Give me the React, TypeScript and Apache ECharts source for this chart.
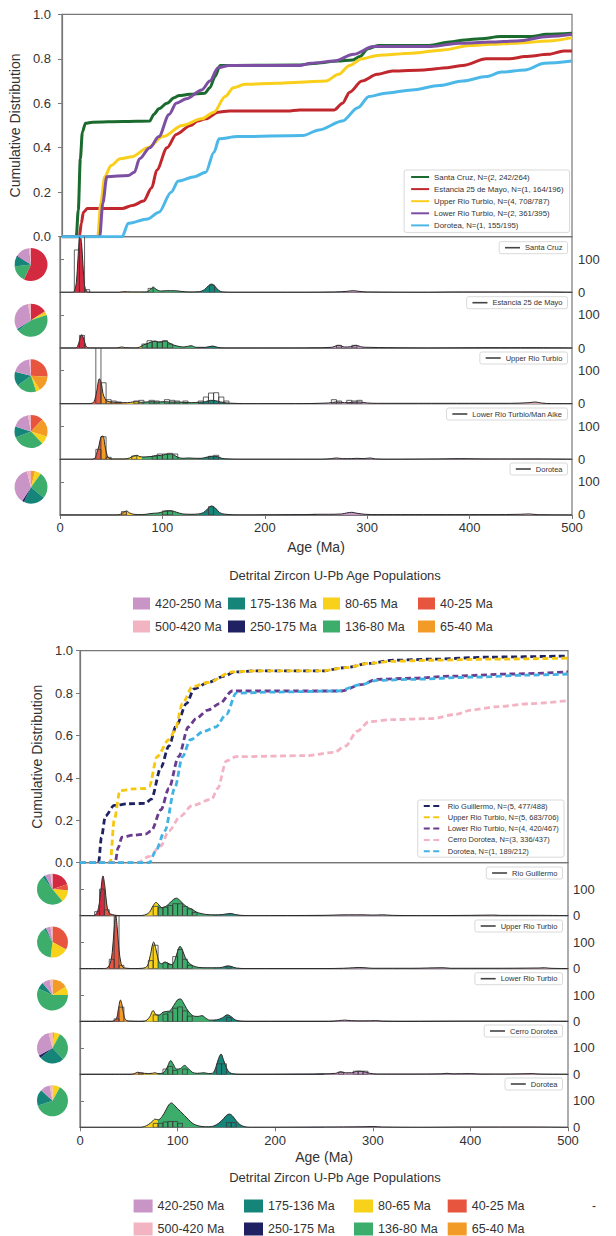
import React, { useEffect, useRef } from 'react';
import * as echarts from 'echarts';

// ---------- age populations ----------
const ageBandEdges = [0, 25, 40, 65, 80, 136, 175, 250, 420, 500];
const ageBandNames = ['<25 Ma', '40-25 Ma', '65-40 Ma', '80-65 Ma', '136-80 Ma', '175-136 Ma', '250-175 Ma', '420-250 Ma', '500-420 Ma'];
const ageBandColors = ['#d42a3f', '#e8553f', '#f29b27', '#f7d11a', '#3dad6c', '#168579', '#1f2163', '#c895c6', '#f2b4c0'];
const popLegendColumns = [
  ['420-250 Ma', '500-420 Ma'],
  ['175-136 Ma', '250-175 Ma'],
  ['80-65 Ma', '136-80 Ma'],
  ['40-25 Ma', '65-40 Ma'],
];
const popTitle = 'Detrital Zircon U-Pb Age Populations';

// ---------- top figure: cumulative distributions ----------
const cdfTopNames = [
  'Santa Cruz, N=(2, 242/264)',
  'Estancia 25 de Mayo, N=(1, 164/196)',
  'Upper Rio Turbio, N=(4, 708/787)',
  'Lower Rio Turbio, N=(2, 361/395)',
  'Dorotea, N=(1, 155/195)',
];
const cdfTopColors = ['#1b6b2e', '#c0282e', '#f9cf1c', '#7c4fa3', '#4cb8e8'];
const cdfSantaCruz = [[0,0],[14,0],[16,0.12],[18,0.35],[20,0.47],[23,0.51],[30,0.515],[60,0.518],[86,0.52],[90,0.55],[95,0.575],[103,0.6],[110,0.625],[115,0.635],[125,0.64],[140,0.645],[145,0.67],[150,0.72],[155,0.77],[170,0.77],[230,0.772],[250,0.78],[270,0.79],[285,0.795],[292,0.81],[300,0.845],[310,0.86],[360,0.86],[380,0.875],[395,0.885],[410,0.89],[430,0.9],[460,0.9],[475,0.91],[500,0.915]];
const cdfEstancia = [[0,0],[17,0],[19,0.06],[21,0.11],[25,0.127],[40,0.127],[59,0.127],[69,0.14],[80,0.16],[88,0.22],[93,0.3],[103,0.4],[112,0.46],[126,0.5],[133,0.52],[141,0.53],[153,0.56],[164,0.565],[221,0.565],[233,0.57],[267,0.57],[275,0.6],[282,0.65],[294,0.7],[309,0.73],[324,0.745],[355,0.75],[378,0.76],[393,0.77],[416,0.8],[439,0.8],[454,0.81],[477,0.82],[492,0.835],[500,0.835]];
const cdfUpperRioTurbioTop = [[0,0],[35,0],[38,0.15],[42,0.27],[48,0.32],[57,0.35],[69,0.36],[84,0.4],[99,0.45],[118,0.5],[137,0.53],[149,0.56],[160,0.63],[168,0.67],[179,0.685],[210,0.69],[233,0.695],[259,0.7],[271,0.73],[282,0.77],[294,0.8],[309,0.815],[343,0.825],[374,0.84],[400,0.86],[420,0.865],[446,0.87],[477,0.88],[500,0.895]];
const cdfLowerRioTurbioTop = [[0,0],[37,0],[40,0.15],[44,0.27],[65,0.275],[71,0.29],[76,0.35],[86,0.4],[95,0.45],[105,0.55],[112,0.6],[122,0.62],[137,0.66],[145,0.7],[153,0.76],[164,0.77],[233,0.77],[244,0.78],[267,0.79],[286,0.82],[305,0.855],[362,0.855],[389,0.87],[420,0.875],[446,0.88],[477,0.9],[500,0.91]];
const cdfDoroteaTop = [[0,0],[59,0],[65,0.06],[84,0.08],[95,0.11],[107,0.2],[114,0.25],[130,0.27],[141,0.29],[149,0.38],[154,0.44],[172,0.45],[236,0.455],[252,0.48],[275,0.52],[290,0.58],[301,0.63],[317,0.645],[343,0.66],[370,0.68],[393,0.7],[416,0.72],[431,0.74],[454,0.75],[473,0.78],[500,0.79]];

// ---------- top figure: KDE + histogram panels ----------
const kdeTopSantaCruz = [[0,0],[12,0],[14,3],[16,30],[17.5,100],[19.5,175],[21,150],[22.5,80],[24,20],[26,3],[28,0],[58,0],[62,2],[70,1],[84,1],[88,8],[91,16],[94,9],[98,4],[104,5],[112,5],[118,3],[126,1],[136,2],[141,8],[145,20],[148,25],[151,19],[155,6],[159,1],[170,0],[240,0],[268,1],[280,3],[286,5],[292,3],[300,1],[360,0],[385,1],[420,1],[460,1],[500,0]];
const histTopSantaCruz = [[14,19,128],[19,24,175],[24,29,8],[86,91,12],[146,151,22]];
const kdeTopEstancia = [[0,0],[15,0],[17,4],[19,22],[21,40],[23,30],[25,8],[27,1],[30,0],[55,0],[60,3],[64,1],[74,0],[78,3],[82,10],[85,13],[89,18],[93,21],[96,18],[99,19],[103,21],[107,15],[111,9],[116,5],[121,3],[128,7],[133,2],[142,2],[149,6],[154,2],[160,0],[230,0],[265,2],[272,8],[278,3],[284,4],[289,8],[295,3],[302,2],[320,1],[360,0],[420,1],[460,1],[500,0]];
const histTopEstancia = [[19,24,38],[80,85,12],[85,90,22],[90,95,20],[95,100,18],[100,105,22],[105,110,12],[270,275,8],[285,290,8]];
const kdeTopUpperRioTurbio = [[0,0],[28,0],[32,2],[34,12],[36,40],[38.5,75],[40.5,60],[42,30],[44,15],[46,8],[50,5],[55,4],[60,3],[66,3],[71,5],[75,6],[79,4],[84,5],[90,6],[96,5],[102,6],[108,5],[114,5],[120,4],[128,3],[136,4],[142,6],[147,10],[152,9],[157,5],[163,2],[170,1],[180,0],[230,0],[262,2],[270,5],[278,3],[286,4],[292,5],[300,2],[310,1],[350,1],[400,1],[440,1],[458,3],[464,5],[470,2],[480,0],[500,0]];
const histTopUpperRioTurbio = [[35,40,200],[40,45,63],[45,50,12],[50,55,8],[55,60,5],[72,77,8],[77,82,10],[87,92,10],[92,97,8],[102,107,12],[107,112,10],[112,117,8],[120,125,8],[135,140,8],[140,145,20],[145,150,32],[150,155,33],[155,160,20],[160,165,8],[265,270,12],[270,275,8],[280,285,10],[285,290,8],[290,295,10]];
const kdeTopLowerRioTurbio = [[0,0],[30,0],[34,3],[36,20],[38,40],[40,68],[42,70],[44,40],[46,12],[48,3],[52,1],[62,1],[68,4],[72,10],[75,12],[78,8],[82,7],[87,8],[91,9],[95,12],[99,11],[103,15],[107,16],[111,14],[115,6],[120,3],[126,4],[132,3],[138,3],[144,7],[149,9],[154,8],[158,3],[164,1],[175,0],[255,0],[265,2],[270,4],[276,2],[285,2],[290,3],[296,2],[303,4],[308,1],[320,0],[370,1],[390,2],[420,1],[460,1],[500,0]];
const histTopLowerRioTurbio = [[35,40,30],[40,45,68],[45,50,6],[70,75,10],[90,95,10],[95,100,16],[100,105,16],[105,110,18],[110,115,16],[145,150,9],[150,155,12]];
const kdeTopDorotea = [[0,0],[55,0],[59,2],[62,8],[65,12],[68,6],[72,2],[80,1],[86,3],[91,5],[96,6],[101,10],[106,13],[110,12],[114,8],[120,3],[128,2],[135,3],[140,7],[144,18],[148,27],[152,20],[156,7],[162,2],[175,0],[240,1],[250,2],[262,2],[275,3],[280,6],[285,8],[290,5],[298,2],[310,1],[340,1],[370,1],[400,1],[420,1],[450,2],[458,3],[466,1],[500,0]];
const histTopDorotea = [[60,65,10],[100,105,12],[105,110,12],[145,150,25]];

const pieTopSantaCruz = [['<25 Ma',57],['136-80 Ma',16],['175-136 Ma',10],['250-175 Ma',1],['420-250 Ma',14],['500-420 Ma',2]];
const pieTopEstancia = [['<25 Ma',16],['65-40 Ma',1],['80-65 Ma',3],['136-80 Ma',44],['175-136 Ma',2],['420-250 Ma',31],['500-420 Ma',3]];
const pieTopUpperRioTurbio = [['40-25 Ma',26],['65-40 Ma',15],['80-65 Ma',4],['136-80 Ma',20],['175-136 Ma',14],['420-250 Ma',19],['500-420 Ma',2]];
const pieTopLowerRioTurbio = [['40-25 Ma',12],['65-40 Ma',18],['80-65 Ma',8],['136-80 Ma',31],['175-136 Ma',11],['420-250 Ma',17],['500-420 Ma',3]];
const pieTopDorotea = [['65-40 Ma',4],['80-65 Ma',6],['136-80 Ma',26],['175-136 Ma',21],['250-175 Ma',2],['420-250 Ma',37],['500-420 Ma',4]];

const topPanelNames = ['Santa Cruz', 'Estancia 25 de Mayo', 'Upper Rio Turbio', 'Lower Rio Turbio/Man Aike', 'Dorotea'];

// ---------- bottom figure: cumulative distributions ----------
const cdfBotNames = [
  'Rio Guillermo, N=(5, 477/488)',
  'Upper Rio Turbio, N=(5, 683/706)',
  'Lower Rio Turbio, N=(4, 420/467)',
  'Cerro Dorotea, N=(3, 336/437)',
  'Dorotea, N=(1, 189/212)',
];
const cdfBotColors = ['#1e2262', '#f6c70e', '#6b3b8e', '#f4b3c4', '#3fb3e3'];
const cdfRioGuillermo = [[0,0],[19,0],[22,0.12],[26,0.22],[35,0.27],[50,0.278],[67,0.28],[73,0.3],[83,0.45],[91,0.55],[99,0.65],[109,0.75],[117,0.82],[131,0.85],[148,0.88],[158,0.9],[180,0.905],[248,0.905],[272,0.92],[296,0.94],[320,0.955],[361,0.96],[421,0.97],[500,0.975]];
const cdfUpperRioTurbioBot = [[0,0],[31,0],[35,0.2],[41,0.34],[55,0.348],[67,0.35],[71,0.36],[79,0.5],[91,0.58],[97,0.62],[105,0.75],[115,0.83],[131,0.85],[156,0.9],[180,0.905],[248,0.905],[272,0.92],[296,0.94],[320,0.95],[361,0.955],[421,0.96],[500,0.965]];
const cdfLowerRioTurbioBot = [[0,0],[36,0],[39,0.07],[43,0.12],[55,0.13],[67,0.135],[73,0.15],[83,0.25],[91,0.35],[101,0.5],[111,0.64],[119,0.68],[131,0.72],[143,0.75],[156,0.81],[200,0.81],[268,0.81],[288,0.84],[304,0.865],[340,0.87],[381,0.88],[441,0.89],[500,0.9]];
const cdfCerroDorotea = [[0,0],[59,0],[71,0.03],[83,0.08],[91,0.15],[103,0.22],[115,0.27],[135,0.3],[141,0.35],[150,0.48],[160,0.5],[232,0.505],[260,0.52],[272,0.55],[284,0.62],[296,0.665],[320,0.675],[361,0.68],[385,0.7],[401,0.72],[425,0.735],[461,0.75],[500,0.765]];
const cdfDoroteaBot = [[0,0],[71,0],[77,0.05],[87,0.15],[97,0.35],[105,0.5],[113,0.58],[127,0.62],[139,0.64],[150,0.7],[160,0.8],[200,0.805],[264,0.81],[288,0.84],[304,0.86],[340,0.865],[401,0.875],[461,0.885],[500,0.89]];

// ---------- bottom figure: KDE + histogram panels ----------
const kdeBotRioGuillermo = [[0,0],[12,0],[16,4],[19,30],[21.5,100],[23.5,150],[25.5,110],[27.5,40],[30,10],[33,4],[37,1],[45,0],[60,0],[66,2],[71,12],[75,38],[78,50],[81,40],[84,30],[88,35],[92,48],[96,62],[99,66],[103,55],[107,40],[111,30],[115,24],[119,14],[124,8],[130,4],[138,3],[146,4],[151,7],[155,8],[159,4],[165,1],[175,0],[250,1],[260,2],[275,3],[290,3],[300,2],[310,3],[320,1],[350,0],[400,1],[424,2],[430,1],[470,1],[500,0]];
const histBotRioGuillermo = [[15,20,15],[20,25,100],[25,30,22],[75,80,35],[80,85,30],[85,90,32],[90,95,38],[95,100,45],[100,105,45],[105,110,35],[110,115,25],[115,120,12]];
const kdeBotUpperRioTurbio = [[0,0],[24,0],[28,3],[31,20],[33,60],[35,150],[36.5,205],[38,160],[40,70],[42,20],[44,5],[48,1],[55,0],[64,1],[69,10],[72,50],[75.5,100],[78,70],[81,25],[84,18],[87,25],[90,20],[94,15],[97,30],[100,65],[102.5,84],[105,70],[108,40],[112,20],[116,10],[122,4],[130,3],[140,3],[146,5],[151,10],[155,8],[160,2],[170,0],[250,0],[270,1],[280,3],[286,4],[292,3],[300,1],[340,1],[372,3],[380,1],[420,1],[470,2],[476,3],[482,1],[500,0]];
const histBotUpperRioTurbio = [[30,35,35],[35,40,205],[40,45,12],[70,75,30],[75,80,88],[85,90,22],[90,95,15],[95,100,45],[100,105,72],[105,110,35],[110,115,12],[150,155,8]];
const kdeBotLowerRioTurbio = [[0,0],[32,0],[35,3],[37.5,12],[39.5,50],[41.5,81],[43.5,55],[45.5,15],[48,3],[52,1],[60,0],[66,1],[71,15],[75,41],[78,25],[81,24],[85,35],[89,38],[92,40],[96,60],[100,82],[103,85],[106,70],[109,50],[113,30],[117,20],[121,19],[125,22],[129,12],[133,5],[140,6],[146,14],[151,25],[155,18],[159,6],[165,1],[175,0],[255,0],[265,3],[271,5],[278,3],[290,2],[303,3],[310,1],[330,0],[400,1],[450,1],[500,0]];
const histBotLowerRioTurbio = [[35,40,10],[40,45,54],[75,80,25],[85,90,28],[90,95,36],[95,100,50],[100,105,55],[105,110,40],[110,115,20],[150,155,15]];
const kdeBotCerroDorotea = [[0,0],[52,0],[56,3],[59,8],[62,6],[66,4],[70,3],[74,4],[77,6],[80,3],[85,5],[89,25],[93,52],[96,35],[99,20],[103,22],[107,34],[111,22],[115,8],[120,4],[127,6],[132,3],[136,5],[139,25],[142,60],[144.5,77],[147,55],[150,25],[153,8],[157,2],[165,0],[230,1],[250,2],[262,4],[267,10],[272,6],[278,6],[285,12],[291,10],[297,4],[305,1],[340,1],[370,2],[376,4],[382,2],[400,3],[410,1],[440,1],[464,3],[470,1],[500,0]];
const histBotCerroDorotea = [[60,65,5],[85,90,20],[90,95,30],[95,100,15],[105,110,20],[140,145,40],[145,150,40],[265,270,8],[280,285,12],[285,290,12],[290,295,12]];
const kdeBotDorotea = [[0,0],[62,0],[66,3],[70,10],[74,22],[77,31],[80,28],[84,40],[88,65],[91,85],[93.8,92],[97,82],[100,70],[103,60],[107,45],[111,30],[115,16],[119,8],[125,3],[132,2],[137,5],[142,15],[147,32],[150,45],[153,50],[156,44],[160,25],[164,10],[169,2],[175,0],[250,1],[290,2],[300,3],[310,1],[350,0],[400,1],[460,1],[500,0]];
const histBotDorotea = [[75,80,15],[80,85,15],[85,90,20],[90,95,22],[95,100,22],[100,105,15],[150,155,18],[155,160,18]];

const pieBotRioGuillermo = [['<25 Ma',20],['40-25 Ma',6],['80-65 Ma',13],['136-80 Ma',50],['175-136 Ma',3],['420-250 Ma',6],['500-420 Ma',2]];
const pieBotUpperRioTurbio = [['40-25 Ma',33],['80-65 Ma',19],['136-80 Ma',39],['175-136 Ma',2],['420-250 Ma',5],['500-420 Ma',2]];
const pieBotLowerRioTurbio = [['65-40 Ma',16],['80-65 Ma',9],['136-80 Ma',57],['175-136 Ma',7],['420-250 Ma',8],['500-420 Ma',3]];
const pieBotCerroDorotea = [['65-40 Ma',2],['80-65 Ma',6],['136-80 Ma',30],['175-136 Ma',26],['250-175 Ma',3],['420-250 Ma',29],['500-420 Ma',4]];
const pieBotDorotea = [['80-65 Ma',8],['136-80 Ma',62],['175-136 Ma',17],['420-250 Ma',10],['500-420 Ma',3]];

const botPanelNames = ['Rio Guillermo', 'Upper Rio Turbio', 'Lower Rio Turbio', 'Cerro Dorotea', 'Dorotea'];

const xTicks = [0, 100, 200, 300, 400, 500];
const kdeTicks = [0, 100];

// ---------- styling ----------
const FONT = '"Liberation Sans", Arial, Helvetica, sans-serif';
const TEXT = '#333';
const FRAME = '#777';

const colorOf = (n: string) => ageBandColors[ageBandNames.indexOf(n)];

function bandGradient(left: number, right: number) {
  const stops: any[] = [];
  for (let i = 0; i < ageBandColors.length; i++) {
    stops.push({ offset: ageBandEdges[i] / 500, color: ageBandColors[i] });
    stops.push({ offset: ageBandEdges[i + 1] / 500, color: ageBandColors[i] });
  }
  return new echarts.graphic.LinearGradient(left, 0, right, 0, stops, true);
}

function buildFigure(cfg: any, acc: any) {
  const { grid, xAxis, yAxis, series, legend, graphic } = acc;
  const right = cfg.left + cfg.width;
  // CDF grid
  const gi = grid.length;
  grid.push({ left: cfg.left, top: cfg.cdfTop, width: cfg.width, height: cfg.cdfH, show: true, borderColor: FRAME, borderWidth: 1.2 });
  xAxis.push({ type: 'value', gridIndex: gi, min: 0, max: 500, show: false });
  yAxis.push({
    type: 'value', gridIndex: gi, min: 0, max: 1, interval: 0.2,
    axisLine: { show: true, lineStyle: { color: FRAME, width: 1.2 } },
    axisTick: { show: true, length: 4, lineStyle: { color: FRAME } },
    axisLabel: { formatter: (v: number) => v.toFixed(1), fontSize: 13, color: TEXT, fontFamily: FONT, margin: cfg.yLabelMargin },
    splitLine: { show: false },
    name: 'Cumulative Distribution', nameLocation: 'middle', nameGap: cfg.yNameGap,
    nameTextStyle: { fontSize: 14, color: TEXT, fontFamily: FONT },
  });
  cfg.cdf.forEach((d: number[][], i: number) => {
    series.push({
      type: 'line', name: cfg.cdfNames[i], xAxisIndex: gi, yAxisIndex: gi, data: d,
      symbol: 'none', smooth: 0.3, smoothMonotone: 'x', color: cfg.cdfColors[i],
      lineStyle: { color: cfg.cdfColors[i], width: cfg.cdfWidth, type: cfg.dashed ? [6, 3.5] : 'solid' },
      silent: true, z: 3,
    });
  });
  legend.push({
    data: cfg.cdfNames, orient: 'vertical', right: cfg.cdfLegend.right, top: cfg.cdfLegend.top,
    itemWidth: cfg.cdfLegend.itemW, itemHeight: 8, itemGap: cfg.cdfLegend.gap,
    padding: cfg.cdfLegend.padding, backgroundColor: 'rgba(255,255,255,0.9)', borderColor: '#cfcfcf', borderWidth: 0.8, borderRadius: 2,
    itemStyle: { opacity: 0 },
    textStyle: { fontSize: cfg.cdfLegend.font, color: TEXT, fontFamily: FONT }, selectedMode: false,
  });

  // KDE panels
  const grad = bandGradient(cfg.left, right);
  cfg.panels.forEach((p: any, i: number) => {
    const k = grid.length;
    const top = cfg.kdeTop + i * cfg.kdeH;
    const last = i === cfg.panels.length - 1;
    grid.push({ left: cfg.left, top, width: cfg.width, height: cfg.kdeH, show: true, borderColor: FRAME, borderWidth: 1.2 });
    xAxis.push({
      type: 'value', gridIndex: k, min: 0, max: 500, interval: 100,
      axisLine: { show: true, lineStyle: { color: FRAME, width: 1.2 } },
      axisTick: { show: last, length: 4, lineStyle: { color: FRAME }, customValues: xTicks },
      axisLabel: { show: last, fontSize: 13, color: TEXT, fontFamily: FONT, margin: 6.5, customValues: xTicks },
      splitLine: { show: false },
      name: last ? 'Age (Ma)' : '', nameLocation: 'middle', nameGap: cfg.ageNameGap,
      nameTextStyle: { fontSize: 14, color: TEXT, fontFamily: FONT },
    });
    yAxis.push({
      type: 'value', gridIndex: k, min: 0, max: cfg.kdeMax, position: 'right',
      axisLine: { show: true, lineStyle: { color: FRAME, width: 1.2 } },
      axisTick: { show: true, length: 4, lineStyle: { color: FRAME }, customValues: kdeTicks },
      axisLabel: { fontSize: 13, color: TEXT, fontFamily: FONT, margin: cfg.rightLabelMargin, customValues: kdeTicks },
      splitLine: { show: false },
    });
    series.push({
      type: 'line', name: p.name, xAxisIndex: k, yAxisIndex: k, data: p.kde,
      symbol: 'none', smooth: 0.35, color: '#2a2a2a', silent: true, z: 2,
      lineStyle: { color: '#2a2a2a', width: 1 },
      areaStyle: { color: grad, opacity: 1 },
    });
    series.push({
      type: 'custom', name: p.name + ' histogram', xAxisIndex: k, yAxisIndex: k, data: p.hist,
      encode: { x: [0, 1], y: 2 }, clip: true, silent: true, z: 4,
      renderItem: (_params: any, api: any) => {
        const a = api.coord([api.value(0), api.value(2)]);
        const b = api.coord([api.value(1), 0]);
        return {
          type: 'rect',
          shape: { x: a[0], y: a[1], width: b[0] - a[0], height: b[1] - a[1] },
          style: { fill: 'none', stroke: '#3a3a3a', lineWidth: 0.8 },
        };
      },
    });
    series.push({
      type: 'pie', name: p.name + ' pie', center: [cfg.pieX, top + cfg.kdeH / 2], radius: cfg.pieR,
      startAngle: 90, clockwise: true, silent: true, label: { show: false }, labelLine: { show: false },
      emphasis: { disabled: true },
      data: p.pie.map((s: any) => ({ name: s[0], value: s[1], itemStyle: { color: colorOf(s[0]) } })),
    });
    legend.push({
      data: [p.name], orient: 'vertical', right: cfg.kdeLegendRight, top: cfg.kdeLegendTops[i],
      itemWidth: 15, itemHeight: 8, padding: [2, 5], backgroundColor: 'rgba(255,255,255,0.9)',
      borderColor: '#cfcfcf', borderWidth: 0.8, borderRadius: 2,
      itemStyle: { opacity: 0 }, lineStyle: { width: 1.6, color: '#444' },
      textStyle: { fontSize: 7.5, color: TEXT, fontFamily: FONT }, selectedMode: false,
    });
  });

  // population legends
  popLegendColumns.forEach((col, c) => {
    legend.push({
      data: col, orient: 'vertical', left: cfg.pop.lefts[c], top: cfg.pop.top,
      itemWidth: cfg.pop.itemW, itemHeight: cfg.pop.itemH, itemGap: cfg.pop.gap, icon: 'rect', padding: 0,
      textStyle: { fontSize: 12.5, color: TEXT, fontFamily: FONT }, selectedMode: false,
    });
  });
  graphic.push({
    type: 'text', x: cfg.titleX, y: cfg.titleY, silent: true,
    style: { text: popTitle, fontSize: 13, fill: TEXT, fontFamily: FONT, align: 'center', verticalAlign: 'middle' },
  });
}

function buildOption() {
  const acc: any = { grid: [], xAxis: [], yAxis: [], series: [], legend: [], graphic: [] };
  buildFigure({
    left: 60, width: 512, cdfTop: 14.3, cdfH: 222.4, kdeTop: 236.7, kdeH: 55.65, kdeMax: 168,
    cdf: [cdfSantaCruz, cdfEstancia, cdfUpperRioTurbioTop, cdfLowerRioTurbioTop, cdfDoroteaTop],
    cdfNames: cdfTopNames, cdfColors: cdfTopColors, cdfWidth: 3, dashed: false,
    cdfLegend: { right: 46.5, top: 170, itemW: 18, gap: 4.1, padding: [3, 6], font: 7.8 },
    yLabelMargin: 11, yNameGap: 24, rightLabelMargin: 6, ageNameGap: 25,
    panels: [
      { name: topPanelNames[0], kde: kdeTopSantaCruz, hist: histTopSantaCruz, pie: pieTopSantaCruz },
      { name: topPanelNames[1], kde: kdeTopEstancia, hist: histTopEstancia, pie: pieTopEstancia },
      { name: topPanelNames[2], kde: kdeTopUpperRioTurbio, hist: histTopUpperRioTurbio, pie: pieTopUpperRioTurbio },
      { name: topPanelNames[3], kde: kdeTopLowerRioTurbio, hist: histTopLowerRioTurbio, pie: pieTopLowerRioTurbio },
      { name: topPanelNames[4], kde: kdeTopDorotea, hist: histTopDorotea, pie: pieTopDorotea },
    ],
    pieX: 31, pieR: 16.5, kdeLegendRight: 48.5, kdeLegendTops: [241.7, 296.7, 352, 408, 463],
    pop: { lefts: [133, 228, 323, 418], top: 597, itemW: 17, itemH: 12, gap: 10 },
    titleX: 335, titleY: 575,
  }, acc);
  buildFigure({
    left: 80, width: 488, cdfTop: 650.7, cdfH: 212, kdeTop: 862.7, kdeH: 52.92, kdeMax: 200,
    cdf: [cdfRioGuillermo, cdfUpperRioTurbioBot, cdfLowerRioTurbioBot, cdfCerroDorotea, cdfDoroteaBot],
    cdfNames: cdfBotNames, cdfColors: cdfBotColors, cdfWidth: 2.8, dashed: true,
    cdfLegend: { right: 52, top: 800, itemW: 19, gap: 3.3, padding: [2, 5], font: 7.5 },
    yLabelMargin: 7, yNameGap: 22, rightLabelMargin: 5, ageNameGap: 23,
    panels: [
      { name: botPanelNames[0], kde: kdeBotRioGuillermo, hist: histBotRioGuillermo, pie: pieBotRioGuillermo },
      { name: botPanelNames[1], kde: kdeBotUpperRioTurbio, hist: histBotUpperRioTurbio, pie: pieBotUpperRioTurbio },
      { name: botPanelNames[2], kde: kdeBotLowerRioTurbio, hist: histBotLowerRioTurbio, pie: pieBotLowerRioTurbio },
      { name: botPanelNames[3], kde: kdeBotCerroDorotea, hist: histBotCerroDorotea, pie: pieBotCerroDorotea },
      { name: botPanelNames[4], kde: kdeBotDorotea, hist: histBotDorotea, pie: pieBotDorotea },
    ],
    pieX: 52.5, pieR: 15.5, kdeLegendRight: 53.5, kdeLegendTops: [867, 920, 972.7, 1025, 1078],
    pop: { lefts: [133.6, 244, 354, 447.7], top: 1199.5, itemW: 19, itemH: 13, gap: 10 },
    titleX: 335, titleY: 1177.7,
  }, acc);
  acc.graphic.push({
    type: 'text', x: 594, y: 1206, silent: true,
    style: { text: '-', fontSize: 12, fill: TEXT, fontFamily: FONT, align: 'center', verticalAlign: 'middle' },
  });
  return {
    animation: false,
    backgroundColor: '#ffffff',
    textStyle: { fontFamily: FONT },
    grid: acc.grid, xAxis: acc.xAxis, yAxis: acc.yAxis,
    series: acc.series, legend: acc.legend, graphic: acc.graphic,
  };
}

export default function App() {
  const ref = useRef<HTMLDivElement>(null);
  useEffect(() => {
    if (!ref.current) return;
    const chart = echarts.init(ref.current, undefined, { renderer: 'svg' });
    chart.setOption(buildOption() as any);
    return () => chart.dispose();
  }, []);
  return (
    <div
      ref={ref}
      style={{ position: 'absolute', left: 0, top: 0, width: 616, height: 1236, background: '#fff' }}
    />
  );
}
